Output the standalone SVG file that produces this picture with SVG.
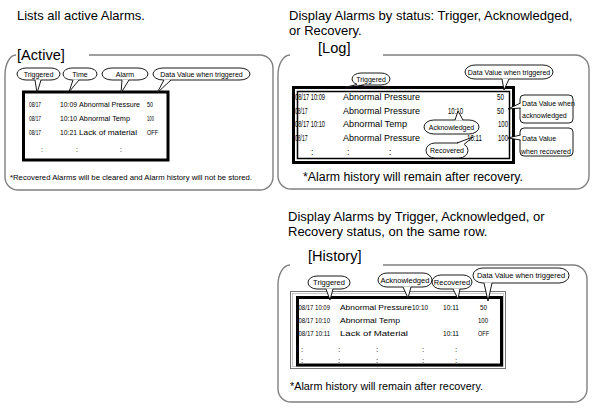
<svg xmlns="http://www.w3.org/2000/svg" width="592" height="410" viewBox="0 0 592 410">
<style>
text{font-family:"Liberation Sans",Arial,sans-serif;fill:#000}
.top{font-size:13px}
.ttl{font-size:14.6px}
.a{font-size:7px}
.l{font-size:8.5px}
.h{font-size:8px}
.b{font-size:7px;text-anchor:middle}
.bh{font-size:7.5px;text-anchor:middle}
.frame{fill:none;stroke:#808080;stroke-width:1.4}
.box{fill:none;stroke:#000;stroke-width:3}
.bub{fill:#fff;stroke:#000;stroke-width:0.9}
.tw{fill:#fff;stroke:none}
.ts{fill:none;stroke:#000;stroke-width:0.9}
</style>
<rect width="592" height="410" fill="#fff"/>

<!-- captions -->
<text class="top" x="17" y="20">Lists all active Alarms.</text>
<text class="top" x="289" y="19.5">Display Alarms by status: Trigger, Acknowledged,</text>
<text class="top" x="289" y="34.6">or Recovery.</text>
<text class="top" x="288" y="220.5">Display Alarms by Trigger, Acknowledged, or</text>
<text class="top" x="288" y="235.6">Recovery status, on the same row.</text>

<!-- Active panel -->
<g id="active">
<path class="frame" d="M89 55 H260 A13 13 0 0 1 273 68 V177 A13 13 0 0 1 260 190 H18 A13 13 0 0 1 5 177 V75 A11 20 0 0 1 16 55"/>
<text class="ttl" x="17" y="60">[Active]</text>
<g class="a">
<text x="29" y="107" textLength="12" lengthAdjust="spacingAndGlyphs">08/17</text>
<text x="60" y="107" textLength="17" lengthAdjust="spacingAndGlyphs">10:09</text>
<text x="79" y="107" textLength="61" lengthAdjust="spacingAndGlyphs">Abnormal Pressure</text>
<text x="147" y="107" textLength="6" lengthAdjust="spacingAndGlyphs">50</text>
<text x="29" y="121" textLength="12" lengthAdjust="spacingAndGlyphs">08/17</text>
<text x="60" y="121" textLength="17" lengthAdjust="spacingAndGlyphs">10:10</text>
<text x="79" y="121" textLength="51" lengthAdjust="spacingAndGlyphs">Abnormal Temp</text>
<text x="147" y="121" textLength="7" lengthAdjust="spacingAndGlyphs">100</text>
<text x="29" y="135" textLength="12" lengthAdjust="spacingAndGlyphs">08/17</text>
<text x="60" y="135" textLength="17" lengthAdjust="spacingAndGlyphs">10:21</text>
<text x="79" y="135" textLength="58" lengthAdjust="spacingAndGlyphs">Lack of material</text>
<text x="147" y="135" textLength="11" lengthAdjust="spacingAndGlyphs">OFF</text>
<text x="41" y="152">:</text>
<text x="76" y="152">:</text>
<text x="120" y="152">:</text>
</g>
<rect class="box" x="23.5" y="92" width="144.5" height="68"/>
<text class="a" x="10" y="180" textLength="242" lengthAdjust="spacingAndGlyphs">*Recovered Alarms will be cleared and Alarm history will not be stored.</text>
</g>

<g id="active-triggered">
<rect class="bub" x="17" y="68" width="43" height="12" rx="9" ry="6"/>
<polygon class="tw" points="35,79.4 37,93 41,79.4"/>
<polyline class="ts" points="35,80 37,93 41,80"/>
<text class="b" x="38.5" y="76.5">Triggered</text>
</g>
<g id="active-time">
<rect class="bub" x="63" y="68" width="34" height="12" rx="9" ry="6"/>
<polygon class="tw" points="73,79.4 69,92 79,79.4"/>
<polyline class="ts" points="73,80 69,92 79,80"/>
<text class="b" x="80" y="76.5">Time</text>
</g>
<g id="active-alarm">
<rect class="bub" x="102" y="68" width="46" height="12" rx="10" ry="6"/>
<polygon class="tw" points="122,79.4 121,93 129,79.4"/>
<polyline class="ts" points="122,80 121,93 129,80"/>
<text class="b" x="125" y="76.5">Alarm</text>
</g>
<g id="active-data">
<rect class="bub" x="153" y="68" width="97" height="12" rx="10" ry="6"/>
<polygon class="tw" points="164,79.4 157,93 171,79.4"/>
<polyline class="ts" points="164,80 157,93 171,80"/>
<text class="b" x="201.5" y="76.5">Data Value when triggered</text>
</g>

<!-- Log panel -->
<g id="log">
<path class="frame" d="M383 55 H575 A14 14 0 0 1 589 69 V176 A13 13 0 0 1 576 189 H291 A13 13 0 0 1 278 176 V75 A12 20 0 0 1 290 55"/>
<text class="ttl" x="318" y="53">[Log]</text>
<g class="l">
<text x="295" y="100" textLength="30" lengthAdjust="spacingAndGlyphs">08/17 10:09</text>
<text x="343" y="100" textLength="77" lengthAdjust="spacingAndGlyphs">Abnormal Pressure</text>
<text x="497" y="100" textLength="7" lengthAdjust="spacingAndGlyphs">50</text>
<text x="295" y="113.5" textLength="12.5" lengthAdjust="spacingAndGlyphs">08/17</text>
<text x="343" y="113.5" textLength="77" lengthAdjust="spacingAndGlyphs">Abnormal Pressure</text>
<text x="448" y="113.5" textLength="15" lengthAdjust="spacingAndGlyphs">10:10</text>
<text x="497" y="113.5" textLength="7" lengthAdjust="spacingAndGlyphs">50</text>
<text x="295" y="127" textLength="30" lengthAdjust="spacingAndGlyphs">08/17 10:10</text>
<text x="343" y="127" textLength="64" lengthAdjust="spacingAndGlyphs">Abnormal Temp</text>
<text x="498" y="127" textLength="10" lengthAdjust="spacingAndGlyphs">100</text>
<text x="295" y="141" textLength="12.5" lengthAdjust="spacingAndGlyphs">08/17</text>
<text x="343" y="141" textLength="77" lengthAdjust="spacingAndGlyphs">Abnormal Pressure</text>
<text x="467" y="141" textLength="15" lengthAdjust="spacingAndGlyphs">10:11</text>
<text x="498" y="141" textLength="10" lengthAdjust="spacingAndGlyphs">100</text>
<text x="311" y="155">:</text>
<text x="347" y="155">:</text>
<text x="389" y="155">:</text>
</g>
<rect class="box" x="293.5" y="87.5" width="220" height="75"/>
<rect x="297.5" y="91.5" width="212" height="67" fill="none" stroke="#000" stroke-width="1.5"/>
<text x="303" y="181" style="font-size:12px" textLength="220" lengthAdjust="spacingAndGlyphs">*Alarm history will remain after recovery.</text>
</g>

<g id="log-triggered">
<rect class="bub" x="352" y="73" width="38" height="12" rx="9" ry="6"/>
<polygon class="tw" points="357,84 342,88 364,84.4"/>
<polyline class="ts" points="357,84.5 342,88 364,85"/>
<text class="b" x="371" y="81.5">Triggered</text>
</g>
<g id="log-data-trig">
<rect class="bub" x="465" y="65" width="88" height="14" rx="10" ry="7"/>
<polygon class="tw" points="502,78.4 504,90 509,78.4"/>
<polyline class="ts" points="502,79 504,90 509,79"/>
<text class="b" x="509" y="74.5">Data Value when triggered</text>
</g>
<g id="log-data-ack">
<rect class="bub" x="520" y="95" width="53" height="28" rx="4"/>
<polygon class="tw" points="521,103 508,109 521,108"/>
<polyline class="ts" points="520.5,103 508,109 520.5,108"/>
<text class="a" x="522" y="105.5">Data Value when</text>
<text class="a" x="522" y="118">acknowledged</text>
</g>
<g id="log-data-rec">
<rect class="bub" x="520" y="128" width="53" height="28" rx="4"/>
<polygon class="tw" points="521,135 508,138 521,140"/>
<polyline class="ts" points="520.5,135 508,138 520.5,140"/>
<text class="a" x="522" y="141">Data Value</text>
<text class="a" x="521" y="154">when recovered</text>
</g>
<g id="log-ack">
<rect class="bub" x="424" y="120" width="55" height="14" rx="10" ry="7"/>
<polygon class="tw" points="455,120.6 458,111 463,120.6"/>
<polyline class="ts" points="455,120 458,111 463,120"/>
<text class="b" x="451.5" y="129.5">Acknowledged</text>
</g>
<g id="log-rec">
<rect class="bub" x="426" y="143" width="42" height="15" rx="9" ry="7.5"/>
<polygon class="tw" points="457,143.6 473,137 464,145"/>
<polyline class="ts" points="457,143 473,137 464,144.4"/>
<text class="b" x="447" y="153">Recovered</text>
</g>

<!-- History panel -->
<g id="history">
<path class="frame" d="M383 265 H573 A14 14 0 0 1 587 279 V389 A13 13 0 0 1 574 402 H291 A13 13 0 0 1 278 389 V285 A12 20 0 0 1 290 265"/>
<text class="ttl" x="308" y="261">[History]</text>
<g class="h">
<text x="298.5" y="310" textLength="31.5" lengthAdjust="spacingAndGlyphs">08/17 10:09</text>
<text x="340" y="310" textLength="72" lengthAdjust="spacingAndGlyphs">Abnormal Pressure</text>
<text x="412" y="310" textLength="16" lengthAdjust="spacingAndGlyphs">10:10</text>
<text x="443" y="310" textLength="16" lengthAdjust="spacingAndGlyphs">10:11</text>
<text x="480" y="310" textLength="7" lengthAdjust="spacingAndGlyphs">50</text>
<text x="298.5" y="323" textLength="31.5" lengthAdjust="spacingAndGlyphs">08/17 10:10</text>
<text x="340" y="323" textLength="60" lengthAdjust="spacingAndGlyphs">Abnormal Temp</text>
<text x="478" y="323" textLength="10" lengthAdjust="spacingAndGlyphs">100</text>
<text x="298.5" y="336" textLength="31.5" lengthAdjust="spacingAndGlyphs">08/17 10:11</text>
<text x="340" y="336" textLength="68" lengthAdjust="spacingAndGlyphs">Lack of Material</text>
<text x="443" y="336" textLength="16" lengthAdjust="spacingAndGlyphs">10:11</text>
<text x="478" y="336" textLength="11" lengthAdjust="spacingAndGlyphs">OFF</text>
<text x="301" y="352">:</text><text x="338" y="352">:</text><text x="376" y="352">:</text><text x="422" y="352">:</text><text x="455" y="352">:</text>
<text x="301" y="363">:</text><text x="338" y="363">:</text><text x="376" y="363">:</text><text x="422" y="363">:</text><text x="455" y="363">:</text>
</g>
<rect x="290.5" y="291.5" width="215" height="77" fill="none" stroke="#777" stroke-width="1"/>
<rect x="292.5" y="293.5" width="211" height="73" fill="none" stroke="#bbb" stroke-width="0.8"/>
<rect class="box" x="297.5" y="297.5" width="204" height="67.5"/>
<text x="290" y="390" style="font-size:11px" textLength="193" lengthAdjust="spacingAndGlyphs">*Alarm history will remain after recovery.</text>
</g>

<g id="hist-triggered">
<rect class="bub" x="308" y="276" width="42" height="13" rx="9" ry="6.5"/>
<polygon class="tw" points="326,288.4 330,300 333,288.4"/>
<polyline class="ts" points="326,289 330,300 333,289"/>
<text class="bh" x="329" y="285">Triggered</text>
</g>
<g id="hist-ack">
<rect class="bub" x="378" y="273" width="54" height="14" rx="9" ry="7"/>
<polygon class="tw" points="403,286.4 408,298 411,286.4"/>
<polyline class="ts" points="403,287 408,298 411,287"/>
<text class="bh" x="405" y="282.5">Acknowledged</text>
</g>
<g id="hist-rec">
<rect class="bub" x="432" y="275" width="40" height="14" rx="9" ry="7"/>
<polygon class="tw" points="453,288.4 458,299 460,288.4"/>
<polyline class="ts" points="453,289 458,299 460,289"/>
<text class="bh" x="452" y="284.5">Recovered</text>
</g>
<g id="hist-data">
<rect class="bub" x="473" y="268" width="96" height="15" rx="10" ry="7.5"/>
<polygon class="tw" points="484,282.4 488,301 492,282.4"/>
<polyline class="ts" points="484,283 488,301 492,283"/>
<text class="bh" x="521" y="278">Data Value when triggered</text>
</g>
</svg>
